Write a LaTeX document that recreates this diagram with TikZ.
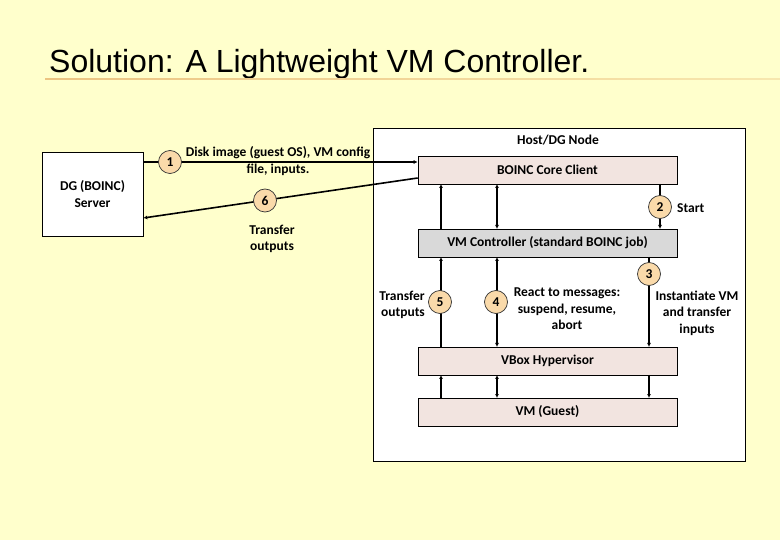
\documentclass[tikz,border=0pt]{standalone}
\usepackage{fontspec}
\setmainfont{Carlito}
\newfontfamily\titlefont{Liberation Sans}
\usetikzlibrary{arrows.meta}
\definecolor{bgyellow}{RGB}{255,255,204}
\definecolor{rosebox}{RGB}{242,228,224}
\definecolor{graybox}{RGB}{217,217,217}
\definecolor{numfill}{RGB}{250,218,170}
\definecolor{ruleorange}{RGB}{236,196,130}
\tikzset{
  lbl/.style={font=\fontsize{13.5}{16.5}\selectfont\bfseries, align=center, inner sep=0pt},
  layerbox/.style={draw=black, line width=0.6pt, minimum width=259pt, minimum height=28pt, inner sep=0pt, font=\fontsize{13.5}{16}\selectfont\bfseries},
  numcirc/.style={circle, draw=black!80, fill=numfill, line width=0.7pt, minimum size=23pt, inner sep=0pt, font=\fontsize{13.5}{16}\selectfont\bfseries},
  conn/.style={line width=1.6pt, -{Latex[length=4pt,width=4pt]}},
  conn2/.style={line width=1.6pt, {Latex[length=4pt,width=4pt]}-{Latex[length=4pt,width=4pt]}},
}
\begin{document}
\begin{tikzpicture}[x=1pt,y=-1pt]
\fill[bgyellow] (0,0) rectangle (780,540);
\useasboundingbox (0,0) rectangle (780,540);
% title
\node[anchor=base west, inner sep=0pt, font=\titlefont\fontsize{32}{36}\selectfont] (title) at (49,73) {Solution: A Lightweight VM Controller.};
\shade[left color=ruleorange, right color=ruleorange!40!bgyellow] (45,78.5) rectangle (780,80);
% boxes
\node[draw=black, fill=white, line width=0.6pt, minimum width=101pt, minimum height=84pt, inner sep=0pt, align=center, font=\fontsize{13.5}{16.5}\selectfont\bfseries] (dg) at (92.5,194) {DG (BOINC)\\Server};
\node[draw=black, fill=white, line width=0.6pt, minimum width=372pt, minimum height=333pt, inner sep=0pt] (host) at (559,294.5) {};
\node[lbl] (hostlbl) at (558,140) {Host/DG Node};
\node[layerbox, fill=rosebox] (core) at (547.5,170) {BOINC Core Client};
\node[layerbox, fill=graybox] (ctrl) at (547.5,243) {VM Controller (standard BOINC job)};
\node[layerbox, fill=rosebox] (vbox) at (547.5,361) {VBox Hypervisor};
\node[layerbox, fill=rosebox] (vm) at (547.5,412) {VM (Guest)};
% network connectors
\coordinate (a1s) at (dg.east |- 0,162);
\coordinate (a1e) at (core.west |- 0,162);
\draw[conn] (a1s) -- (a1e);
\node[numcirc] (n1) at (170,162) {1};
\node[lbl] (l1) at (278,161) {Disk image (guest OS), VM config\\file, inputs.};
\coordinate (a6s) at (core.west |- 0,178);
\coordinate (a6e) at (dg.east |- 0,218);
\draw[conn] (a6s) -- (a6e);
\node[numcirc] (n6) at (265,200.5) {6};
\node[lbl] (l6) at (272,239) {Transfer\\outputs};
% core <-> controller
\coordinate (c5t) at (441,184); \coordinate (c5b) at (441,229);
\coordinate (c4t) at (497,184); \coordinate (c4b) at (497,229);
\coordinate (c2t) at (660,184); \coordinate (c2b) at (660,229);
\draw[conn] (c5b) -- (c5t);
\draw[conn2] (c4b) -- (c4t);
\draw[conn] (c2t) -- (c2b);
\node[numcirc] (n2) at (660,207) {2};
\node[lbl, anchor=west] (l2) at (677,208) {Start};
% controller <-> vbox
\coordinate (d5t) at (441,257); \coordinate (d5b) at (441,347);
\coordinate (d4t) at (497,257); \coordinate (d4b) at (497,347);
\coordinate (d3t) at (649,257); \coordinate (d3b) at (649,347);
\draw[conn] (d5b) -- (d5t);
\draw[conn2] (d4b) -- (d4t);
\draw[conn] (d3t) -- (d3b);
\node[numcirc] (n5) at (440,302) {5};
\node[numcirc] (n4) at (496,302) {4};
\node[numcirc] (n3) at (649,274) {3};
\node[lbl, align=right, anchor=east] (l5) at (425,305) {Transfer\\outputs};
\node[lbl] (l4) at (567,309) {React to messages:\\suspend, resume,\\abort};
\node[lbl] (l3) at (697,313) {Instantiate VM\\and transfer\\inputs};
% vbox <-> vm
\coordinate (e5t) at (441,375); \coordinate (e5b) at (441,398);
\coordinate (e4t) at (497,375); \coordinate (e4b) at (497,398);
\coordinate (e3t) at (649,375); \coordinate (e3b) at (649,398);
\draw[conn] (e5b) -- (e5t);
\draw[conn2] (e4b) -- (e4t);
\draw[conn] (e3t) -- (e3b);
\end{tikzpicture}
\end{document}
